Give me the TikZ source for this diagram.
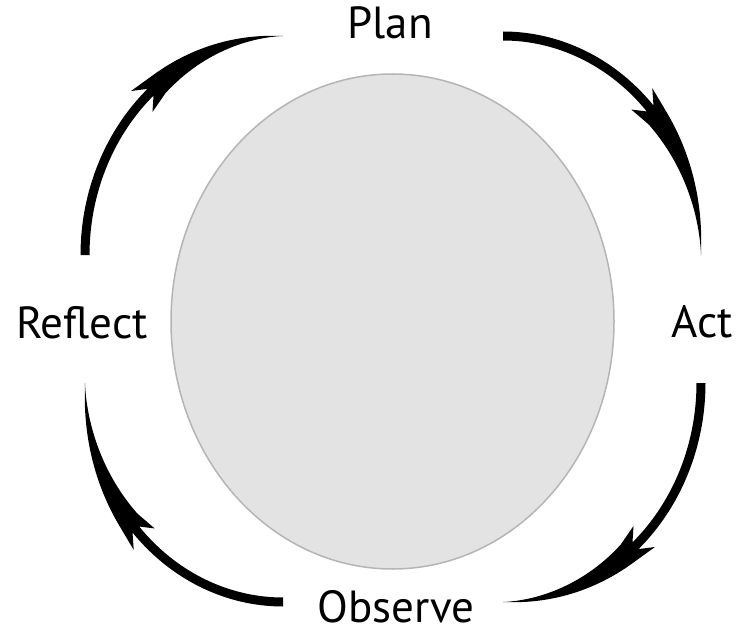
\documentclass[tikz,border=0pt]{standalone}
\usepackage{fontspec}
\setmainfont{PT Sans}
\usetikzlibrary{shapes.geometric}
\definecolor{discfill}{HTML}{E3E3E3}
\definecolor{discline}{HTML}{B5B5B5}
\newcommand{\cyclearrow}[3]{%
  \pgfmathsetmacro{\aS}{#3}%
  \pgfmathsetmacro{\aN}{#3+48}%
  \pgfmathsetmacro{\aB}{#3+44.5}%
  \pgfmathsetmacro{\aH}{#3+51}%
  \pgfmathsetmacro{\aT}{#3+90}%
  \fill[black]
    plot[variable=\t, domain=\aS:\aN, samples=40] ({#1+202.5*cos(\t)},{#2+223.5*sin(\t)})
    -- ({#1+213*cos(\aB)},{#2+234*sin(\aB)})
    -- ({#1+209*cos(\aH)},{#2+230*sin(\aH)})
    -- plot[variable=\t, domain=\aH:\aT, samples=50] ({#1+(198+11*((\aT-\t)/39)^1.2)*cos(\t)},{#2+(219+11*((\aT-\t)/39)^1.2)*sin(\t)})
    -- plot[variable=\t, domain=\aT:\aH, samples=50] ({#1+(198-11*((\aT-\t)/39)^1.2)*cos(\t)},{#2+(219-11*((\aT-\t)/39)^1.2)*sin(\t)})
    -- ({#1+183*cos(\aB)},{#2+204*sin(\aB)})
    -- ({#1+193.5*cos(\aN)},{#2+214.5*sin(\aN)})
    -- plot[variable=\t, domain=\aN:\aS, samples=40] ({#1+193.5*cos(\t)},{#2+214.5*sin(\t)})
    -- cycle;
}
\begin{document}
\begin{tikzpicture}[x=1pt,y=-1pt,
  lbl/.style={font=\fontsize{45}{50}\selectfont, inner sep=0pt, anchor=base}]
\useasboundingbox[fill=white] (0,0) rectangle (747,631);
\node[ellipse, draw=discline, fill=discfill, line width=1.5pt,
      minimum width=443pt, minimum height=495pt, inner sep=0pt] (disc) at (392.5,321.5) {};
\node[lbl] (plan) at (390,39) {Plan};
\node[lbl] (act) at (702.5,337) {Act};
\node[lbl] (observe) at (396,622) {Observe};
\node[lbl] (reflect) at (82,338) {Reflect};
\cyclearrow{503}{255}{-90}
\cyclearrow{503}{383}{0}
\cyclearrow{283}{383}{90}
\cyclearrow{283}{255}{180}
\end{tikzpicture}
\end{document}
